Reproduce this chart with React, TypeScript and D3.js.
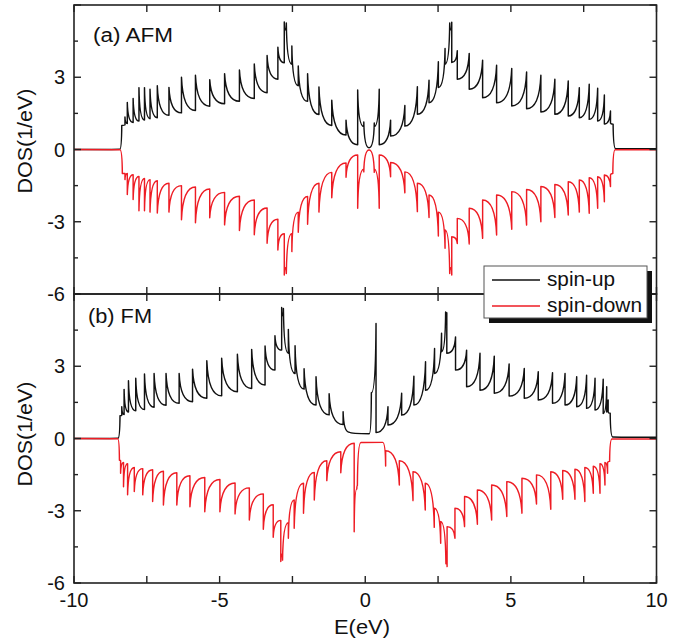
import React from "react";
import * as d3 from "d3";

const W = 690;
const H = 644;

// axis ticks
const xTicks = [-10, -7.5, -5, -2.5, 0, 2.5, 5, 7.5, 10];
const xTickLabels = [-10, -5, 0, 5, 10];
const yMajor = [-6, -3, 0, 3, 6];
const yMinor = [-4.5, -1.5, 1.5, 4.5];
const yTickLabels = [-6, -3, 0, 3];

// legend
const seriesNames = ["spin-up", "spin-down"];
const seriesColors = ["#111111", "#ee1c24"];
const legendTextLen = [68, 95];

// panel labels
const panelLabels = ["(a) AFM", "(b) FM"];

// DOS traces: [E (eV), DOS (1/eV)]
const afmSpinUp: [number, number][] = [
  [-10, 0], [-8.43, 0.01], [-8.36, 1.0], [-8.25, 1.02], [-8.25, 1.35], [-8.17, 1.08], [-8.17, 1.95],
  [-7.97, 1.12], [-7.97, 2.12], [-7.77, 1.18], [-7.77, 2.57], [-7.58, 1.22], [-7.58, 2.57],
  [-7.39, 1.28], [-7.39, 2.5], [-7.14, 1.32], [-7.14, 2.65], [-6.74, 1.42], [-6.74, 2.58],
  [-6.31, 1.52], [-6.31, 3.0], [-5.83, 1.62], [-5.83, 3.08], [-5.34, 1.8], [-5.34, 2.9],
  [-4.83, 1.9], [-4.83, 3.15], [-4.32, 2.0], [-4.32, 3.3], [-3.81, 2.12], [-3.81, 3.55],
  [-3.37, 2.36], [-3.37, 3.9], [-3.0, 2.92], [-3.0, 4.25], [-2.78, 3.6], [-2.78, 5.3],
  [-2.72, 4.95], [-2.71, 5.25], [-2.52, 3.54], [-2.52, 4.3], [-2.3, 2.65], [-2.3, 3.47],
  [-1.98, 2.0], [-1.98, 3.15], [-1.59, 1.45], [-1.59, 2.6], [-1.15, 1.0], [-1.15, 2.05],
  [-0.66, 0.6], [-0.66, 1.22], [-0.26, 0.2], [-0.26, 2.47], [-0.05, 0.95], [-0.05, 1.14],
  [0.13, 0.07], [0.31, 1.1], [0.31, 0.95], [0.48, 2.5], [0.48, 0.2], [0.87, 1.22], [0.87, 0.56],
  [1.36, 1.83], [1.36, 0.97], [1.79, 2.61], [1.79, 1.46], [2.19, 2.88], [2.19, 1.94],
  [2.51, 3.64], [2.51, 2.57], [2.74, 4.19], [2.74, 3.54], [2.9, 5.25], [2.91, 4.95],
  [2.97, 5.28], [2.97, 3.61], [3.16, 4.1], [3.16, 2.92], [3.57, 3.99], [3.57, 2.5],
  [4.03, 3.71], [4.03, 2.15], [4.51, 3.5], [4.51, 1.94], [5.03, 3.36], [5.03, 1.81],
  [5.54, 3.22], [5.54, 1.69], [6.03, 3.08], [6.03, 1.56], [6.51, 2.92], [6.51, 1.46],
  [6.97, 2.85], [6.97, 1.39], [7.35, 2.57], [7.35, 1.32], [7.69, 2.71], [7.69, 1.25],
  [7.98, 2.54], [7.98, 1.18], [8.21, 2.26], [8.21, 1.06], [8.42, 1.6], [8.42, 1.1],
  [8.51, 1.05], [8.6, 0.03], [10, 0.03],
];

const afmSpinDown: [number, number][] = [
  [-10, 0], [-8.42, -0.01], [-8.34, -1.0], [-8.25, -1.0], [-8.25, -1.25], [-8.17, -1.0], [-8.17, -1.87],
  [-7.97, -1.05], [-7.97, -2.08], [-7.77, -1.12], [-7.77, -2.54], [-7.58, -1.2], [-7.58, -2.54],
  [-7.39, -1.25], [-7.39, -2.6], [-7.14, -1.3], [-7.14, -2.64], [-6.74, -1.4], [-6.74, -2.6],
  [-6.31, -1.5], [-6.31, -2.92], [-5.83, -1.56], [-5.83, -3.04], [-5.34, -1.64], [-5.34, -2.83],
  [-4.83, -1.78], [-4.83, -3.13], [-4.32, -1.94], [-4.32, -3.36], [-3.81, -2.1], [-3.81, -3.54],
  [-3.37, -2.43], [-3.37, -3.89], [-3.0, -2.9], [-3.0, -4.17], [-2.78, -3.5], [-2.78, -5.21],
  [-2.72, -4.9], [-2.71, -5.15], [-2.52, -3.5], [-2.52, -4.24], [-2.3, -2.6], [-2.3, -3.44],
  [-1.98, -1.95], [-1.98, -3.1], [-1.59, -1.4], [-1.59, -2.6], [-1.15, -0.95], [-1.15, -2.0],
  [-0.66, -0.56], [-0.66, -1.15], [-0.26, -0.23], [-0.26, -2.44], [-0.05, -0.82], [-0.05, -0.93],
  [0.13, -0.02], [0.31, -0.95], [0.31, -0.82], [0.48, -2.44], [0.48, -0.23], [0.87, -1.13],
  [0.87, -0.54], [1.36, -1.8], [1.36, -0.93], [1.79, -2.58], [1.79, -1.4], [2.19, -2.82],
  [2.19, -1.89], [2.51, -3.59], [2.51, -2.6], [2.74, -4.1], [2.74, -3.34], [2.9, -5.15],
  [2.91, -4.9], [2.97, -5.21], [2.97, -3.62], [3.16, -3.9], [3.16, -2.86], [3.57, -3.92],
  [3.57, -2.44], [4.03, -3.69], [4.03, -2.1], [4.51, -3.55], [4.51, -1.89], [5.03, -3.31],
  [5.03, -1.75], [5.54, -3.14], [5.54, -1.66], [6.03, -3.0], [6.03, -1.54], [6.51, -2.82],
  [6.51, -1.45], [6.97, -2.72], [6.97, -1.34], [7.35, -2.6], [7.35, -1.27], [7.69, -2.65],
  [7.69, -1.17], [7.98, -2.44], [7.98, -1.13], [8.21, -2.17], [8.21, -1.06], [8.42, -1.54],
  [8.42, -1.05], [8.5, -1.0], [8.58, -0.01], [10, -0.01],
];

const fmSpinUp: [number, number][] = [
  [-10, 0], [-8.49, 0.01], [-8.42, 0.95], [-8.36, 0.97], [-8.36, 1.32], [-8.28, 1.0], [-8.28, 2.04],
  [-8.13, 1.1], [-8.13, 2.4], [-7.88, 1.15], [-7.88, 2.5], [-7.58, 1.2], [-7.58, 2.68],
  [-7.25, 1.3], [-7.25, 2.7], [-6.84, 1.38], [-6.84, 2.7], [-6.39, 1.46], [-6.39, 2.7],
  [-5.93, 1.53], [-5.93, 2.88], [-5.44, 1.67], [-5.44, 3.23], [-4.93, 1.77], [-4.93, 3.33],
  [-4.39, 1.94], [-4.39, 3.5], [-3.9, 2.08], [-3.9, 3.7], [-3.44, 2.22], [-3.44, 3.84],
  [-3.1, 2.84], [-3.1, 4.27], [-2.87, 3.67], [-2.87, 5.44], [-2.83, 5.1], [-2.81, 5.4],
  [-2.64, 3.54], [-2.64, 4.53], [-2.41, 2.7], [-2.41, 3.85], [-2.1, 2.05], [-2.1, 2.9],
  [-1.69, 1.39], [-1.69, 2.56], [-1.24, 0.98], [-1.24, 1.86], [-0.76, 0.58], [-0.76, 1.11],
  [-0.55, 0.26], [0.14, 0.2], [0.21, 1.9], [0.37, 4.78], [0.37, 0.25], [0.78, 1.32], [0.78, 0.56],
  [1.25, 1.88], [1.25, 0.97], [1.67, 2.59], [1.67, 1.39], [2.07, 3.19], [2.07, 2.0],
  [2.38, 3.74], [2.38, 2.7], [2.62, 4.37], [2.62, 3.6], [2.76, 5.25], [2.77, 5.0],
  [2.8, 5.22], [2.8, 3.54], [3.1, 4.22], [3.1, 2.84], [3.48, 3.67], [3.48, 2.15],
  [3.94, 3.54], [3.94, 2.0], [4.43, 3.42], [4.43, 1.88], [4.94, 3.09], [4.94, 1.76],
  [5.46, 2.91], [5.46, 1.67], [5.94, 2.77], [5.94, 1.6], [6.43, 2.73], [6.43, 1.46],
  [6.86, 2.7], [6.86, 1.39], [7.26, 2.56], [7.26, 1.32], [7.6, 2.63], [7.6, 1.25],
  [7.89, 2.5], [7.89, 1.18], [8.17, 2.46], [8.17, 1.04], [8.29, 2.15], [8.29, 1.1],
  [8.34, 1.6], [8.34, 1.1], [8.41, 1.05], [8.5, 0.06], [10, 0.05],
];

const fmSpinDown: [number, number][] = [
  [-10, 0], [-8.5, -0.01], [-8.44, -0.9], [-8.4, -0.92], [-8.4, -1.44], [-8.3, -1.0], [-8.3, -2.0],
  [-8.16, -1.05], [-8.16, -2.34], [-7.93, -1.2], [-7.93, -2.2], [-7.64, -1.25], [-7.64, -2.34],
  [-7.3, -1.3], [-7.3, -2.62], [-6.93, -1.36], [-6.93, -2.76], [-6.47, -1.42], [-6.47, -2.76],
  [-6.02, -1.55], [-6.02, -2.83], [-5.51, -1.62], [-5.51, -3.04], [-4.99, -1.7], [-4.99, -3.04],
  [-4.47, -1.85], [-4.47, -3.13], [-3.98, -2.05], [-3.98, -3.38], [-3.5, -2.3], [-3.5, -3.77],
  [-3.16, -2.75], [-3.16, -4.1], [-2.9, -3.4], [-2.9, -5.11], [-2.86, -4.8], [-2.84, -5.05],
  [-2.64, -3.5], [-2.64, -4.14], [-2.44, -2.55], [-2.44, -3.73], [-2.12, -1.86], [-2.12, -3.1],
  [-1.75, -1.41], [-1.75, -2.55], [-1.32, -0.92], [-1.32, -1.75], [-0.84, -0.55], [-0.84, -1.42],
  [-0.38, -0.2], [-0.38, -3.87], [-0.29, -2.1], [-0.27, -1.95], [-0.15, -0.17], [0.6, -0.16],
  [0.7, -1.14], [0.7, -0.51], [1.17, -1.93], [1.17, -0.92], [1.64, -2.58], [1.64, -1.38],
  [2.06, -2.97], [2.06, -1.86], [2.37, -3.69], [2.37, -2.9], [2.59, -4.35], [2.59, -3.45],
  [2.77, -5.2], [2.78, -5.0], [2.81, -5.32], [2.81, -3.66], [3.08, -4.14], [3.08, -2.9],
  [3.41, -3.66], [3.41, -2.41], [3.85, -3.56], [3.85, -2.14], [4.34, -3.38], [4.34, -1.93],
  [4.86, -3.24], [4.86, -1.79], [5.38, -3.1], [5.38, -1.65], [5.88, -2.72], [5.88, -1.51],
  [6.37, -2.94], [6.37, -1.38], [6.78, -2.52], [6.78, -1.33], [7.2, -2.52], [7.2, -1.28],
  [7.54, -2.62], [7.54, -1.2], [7.83, -2.27], [7.83, -1.15], [8.06, -2.27], [8.06, -1.05],
  [8.23, -1.93], [8.23, -1.0], [8.32, -1.44], [8.32, -1.0], [8.39, -0.95], [8.47, -0.02],
  [10, -0.02],
];

const FONT = "'Liberation Sans', Arial, Helvetica, sans-serif";

// layout
const X0 = 74;
const X1 = 656.5;
const panels = [
  { top: 5, bottom: 294, up: afmSpinUp, down: afmSpinDown, label: panelLabels[0], lx: 93, ly: 42, lw: 80 },
  { top: 294, bottom: 583, up: fmSpinUp, down: fmSpinDown, label: panelLabels[1], lx: 88, ly: 323, lw: 64 },
];

const xScale = d3.scaleLinear().domain([-10, 10]).range([X0, X1]);

function spikePath(pts: [number, number][], ys: d3.ScaleLinear<number, number>) {
  const p = d3.path();
  p.moveTo(xScale(pts[0][0]), ys(pts[0][1]));
  for (let i = 1; i < pts.length; i++) {
    const [e0, v0] = pts[i - 1];
    const [e1, v1] = pts[i];
    const x0 = xScale(e0), y0 = ys(v0), x1 = xScale(e1), y1 = ys(v1);
    const a0 = Math.abs(v0), a1 = Math.abs(v1);
    const dx = x1 - x0;
    if (Math.abs(dx) < 0.05 || Math.abs(a1 - a0) < 1e-6) {
      p.lineTo(x1, y1);
    } else if (a1 < a0) {
      p.quadraticCurveTo(x0 + 0.1 * dx, y1, x1, y1);
    } else {
      p.quadraticCurveTo(x1 - 0.1 * dx, y0, x1, y1);
    }
  }
  return p.toString();
}

export default function App() {
  const stroke = "#222";
  return (
    <svg
      width={W}
      height={H}
      viewBox={`0 0 ${W} ${H}`}
      style={{ position: "absolute", left: 0, top: 0, background: "#fff" }}
    >
      <rect x={0} y={0} width={W} height={H} fill="#fff" />
      {panels.map((pn, pi) => {
        const ys = d3.scaleLinear().domain([-6, 6]).range([pn.bottom, pn.top]);
        return (
          <g key={pi}>
            <path d={spikePath(pn.up, ys)} fill="none" stroke={seriesColors[0]} strokeWidth={1.45} strokeLinejoin="round" />
            <path d={spikePath(pn.down, ys)} fill="none" stroke={seriesColors[1]} strokeWidth={1.45} strokeLinejoin="round" />
            <rect x={X0} y={pn.top} width={X1 - X0} height={pn.bottom - pn.top} fill="none" stroke={stroke} strokeWidth={1.6} />
            {xTicks.map((t) => (
              <g key={"xt" + t}>
                <line x1={xScale(t)} x2={xScale(t)} y1={pn.top} y2={pn.top + 7} stroke={stroke} strokeWidth={1.4} />
                <line x1={xScale(t)} x2={xScale(t)} y1={pn.bottom} y2={pn.bottom - 7} stroke={stroke} strokeWidth={1.4} />
              </g>
            ))}
            {yMajor.map((t) => (
              <g key={"ym" + t}>
                <line x1={X0} x2={X0 + 7} y1={ys(t)} y2={ys(t)} stroke={stroke} strokeWidth={1.4} />
                <line x1={X1} x2={X1 - 7} y1={ys(t)} y2={ys(t)} stroke={stroke} strokeWidth={1.4} />
              </g>
            ))}
            {yMinor.map((t) => (
              <g key={"yn" + t}>
                <line x1={X0} x2={X0 + 4} y1={ys(t)} y2={ys(t)} stroke={stroke} strokeWidth={1.4} />
                <line x1={X1} x2={X1 - 4} y1={ys(t)} y2={ys(t)} stroke={stroke} strokeWidth={1.4} />
              </g>
            ))}
            {yTickLabels.map((t) => (
              <text key={"yl" + t} x={65} y={ys(t)} dy="0.36em" textAnchor="end" fontFamily={FONT} fontSize={20} fill="#111">
                {t}
              </text>
            ))}
            <text
              transform={`translate(31.5, ${pi === 0 ? 141 : 434}) rotate(-90)`}
              textAnchor="middle"
              fontFamily={FONT}
              fontSize={21}
              textLength={105}
              lengthAdjust="spacingAndGlyphs"
              fill="#111"
            >
              DOS(1/eV)
            </text>
            <text
              x={pn.lx}
              y={pn.ly}
              fontFamily={FONT}
              fontSize={20}
              textLength={pn.lw}
              lengthAdjust="spacingAndGlyphs"
              fill="#111"
            >
              {pn.label}
            </text>
          </g>
        );
      })}
      {xTickLabels.map((t) => (
        <text key={"xl" + t} x={xScale(t)} y={607} textAnchor="middle" fontFamily={FONT} fontSize={20} fill="#111">
          {t}
        </text>
      ))}
      <text x={362} y={634} textAnchor="middle" fontFamily={FONT} fontSize={21} textLength={56} lengthAdjust="spacingAndGlyphs" fill="#111">
        E(eV)
      </text>
      {/* legend */}
      <g>
        <rect x={489} y={271} width={163} height={52} fill="#111" />
        <rect x={484} y={266} width={163} height={52} fill="#fff" stroke="#555" strokeWidth={1} />
        {seriesNames.map((s, i) => (
          <g key={s}>
            <line x1={492} x2={540} y1={280 + i * 26} y2={280 + i * 26} stroke={seriesColors[i]} strokeWidth={1.4} />
            <text
              x={547}
              y={286 + i * 26}
              fontFamily={FONT}
              fontSize={20}
              textLength={legendTextLen[i]}
              lengthAdjust="spacingAndGlyphs"
              fill="#111"
            >
              {s}
            </text>
          </g>
        ))}
      </g>
    </svg>
  );
}
